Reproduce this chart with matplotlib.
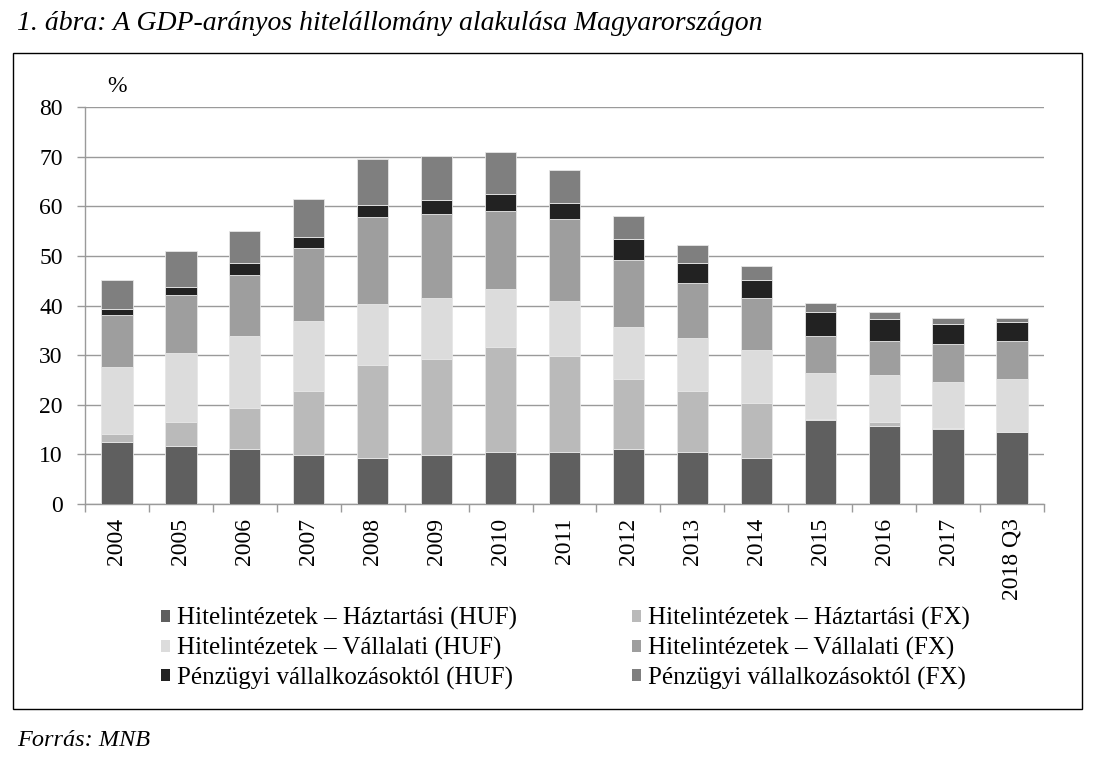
import matplotlib
matplotlib.use("Agg")
import matplotlib.pyplot as plt
import numpy as np
from matplotlib.patches import Rectangle, Patch

categories = ["2004", "2005", "2006", "2007", "2008", "2009", "2010", "2011",
              "2012", "2013", "2014", "2015", "2016", "2017", "2018 Q3"]

hh_huf = [12.4, 11.7, 11.1, 9.9, 9.3, 9.9, 10.5, 10.5, 11.1, 10.5, 9.3, 17.0, 15.8, 15.2, 14.6]
hh_fx = [1.7, 4.8, 8.2, 12.9, 18.8, 19.4, 21.1, 19.4, 14.0, 12.3, 11.1, 0.1, 0.7, 0.1, 0.0]
corp_huf = [13.5, 13.9, 14.6, 14.1, 12.3, 12.2, 11.7, 11.1, 10.6, 10.6, 10.6, 9.2, 9.4, 9.3, 10.6]
corp_fx = [10.5, 11.7, 12.3, 14.6, 17.5, 17.0, 15.8, 16.4, 13.5, 11.1, 10.5, 7.6, 6.9, 7.7, 7.6]
fin_huf = [1.1, 1.7, 2.4, 2.4, 2.3, 2.8, 3.4, 3.3, 4.1, 4.1, 3.6, 4.7, 4.5, 4.0, 3.9]
fin_fx = [5.9, 7.1, 6.4, 7.6, 9.4, 8.9, 8.4, 6.6, 4.7, 3.5, 2.9, 1.9, 1.4, 1.2, 0.8]

series = [hh_huf, hh_fx, corp_huf, corp_fx, fin_huf, fin_fx]
labels = ["Hitelintézetek – Háztartási (HUF)", "Hitelintézetek – Háztartási (FX)",
          "Hitelintézetek – Vállalati (HUF)", "Hitelintézetek – Vállalati (FX)",
          "Pénzügyi vállalkozásoktól (HUF)", "Pénzügyi vállalkozásoktól (FX)"]
colors = ["#5f5f5f", "#bababa", "#dcdcdc", "#9e9e9e", "#222222", "#7f7f7f"]

yticks = [0, 10, 20, 30, 40, 50, 60, 70, 80]

plt.rcParams["font.family"] = ["Liberation Serif", "DejaVu Serif"]

W, H = 1098, 766
fig = plt.figure(figsize=(W / 100, H / 100), dpi=100)

# outer frame
fig.patches.append(Rectangle((13 / W, 1 - 709 / H), (1082 - 13) / W, (709 - 53) / H,
                             transform=fig.transFigure, fill=False, edgecolor="black",
                             linewidth=1.0))

ax = fig.add_axes([85 / W, 1 - 504 / H, (1044 - 85) / W, (504 - 107) / H])
x = np.arange(len(categories))
bottom = np.zeros(len(categories))
for vals, col, lab in zip(series, colors, labels):
    v = np.array(vals)
    ax.bar(x, v, bottom=bottom, width=0.49, color=col, edgecolor="#e6e6e6",
           linewidth=0.6, label=lab, zorder=3)
    bottom += v

ax.set_xlim(-0.5, len(categories) - 0.5)
ax.set_ylim(0, 80)
ax.set_yticks(yticks)
ax.set_yticklabels([str(t) for t in yticks], fontsize=17)
ax.yaxis.grid(True, color="#9a9a9a", linewidth=1.0, zorder=0)
ax.set_axisbelow(True)
for s in ["top", "right"]:
    ax.spines[s].set_visible(False)
for s in ["left", "bottom"]:
    ax.spines[s].set_color("#9a9a9a")
    ax.spines[s].set_linewidth(1.0)
ax.tick_params(axis="y", length=6, color="#9a9a9a", pad=10, width=1.0)

ax.set_xticks(x)
ax.set_xticklabels(categories, rotation=90, fontsize=17, va="top")
ax.tick_params(axis="x", which="major", length=0, pad=10)
ax.set_xticks(np.arange(-0.5, len(categories), 1.0), minor=True)
ax.tick_params(axis="x", which="minor", length=6, color="#9a9a9a", width=1.0)

fig.text(107 / W, 1 - 86 / H, "%", fontsize=17, va="center", ha="left")

fig.text(17 / W, 1 - 24 / H,
         "1. ábra: A GDP-arányos hitelállomány alakulása Magyarországon",
         fontsize=20, style="italic", va="center", ha="left")
fig.text(17 / W, 1 - 741 / H, "Forrás: MNB", fontsize=17.5, style="italic",
         va="center", ha="left")

order = [0, 2, 4, 1, 3, 5]
handles = [Patch(facecolor=colors[i], edgecolor="none") for i in order]
fig.legend(handles, [labels[i] for i in order], loc="upper left",
           bbox_to_anchor=(161 / W, 1 - 607 / H),
           ncol=2, frameon=False, fontsize=18, handlelength=0.36, handleheight=0.36,
           handletextpad=0.28, columnspacing=4.6, labelspacing=0.27,
           borderaxespad=0, borderpad=0)

fig.savefig("out.png", dpi=100)
